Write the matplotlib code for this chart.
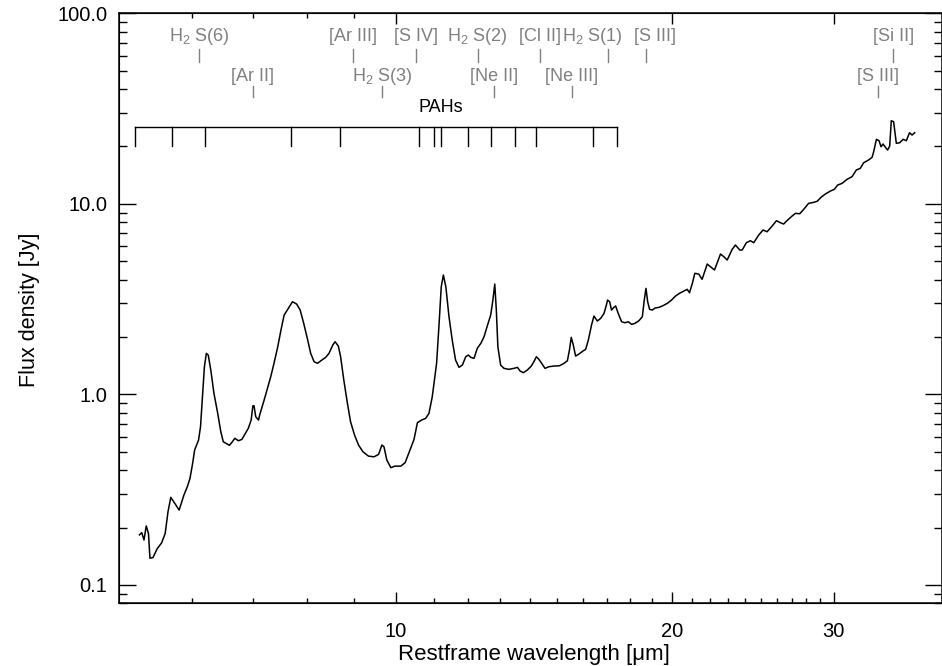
import matplotlib
matplotlib.use('Agg')
import matplotlib.pyplot as plt
from matplotlib.ticker import FixedLocator, NullFormatter, FormatStrFormatter

plt.rcParams['font.family'] = ['Liberation Sans', 'DejaVu Sans']
plt.rcParams['mathtext.fontset'] = 'custom'
plt.rcParams['mathtext.rm'] = 'Liberation Sans'

# spectrum (restframe wavelength in micron, flux in Jy)
wave = [5.26, 5.29, 5.32, 5.35, 5.38, 5.40, 5.44, 5.50, 5.56, 5.61, 5.65, 5.69, 5.81, 5.88, 5.93,
        5.97, 6.01, 6.04, 6.10, 6.13, 6.16, 6.19, 6.22, 6.25, 6.29, 6.34, 6.40, 6.45, 6.49, 6.59,
        6.64, 6.68, 6.74, 6.80, 6.85, 6.91, 6.96, 6.99, 7.01, 7.04, 7.09,
        7.11, 7.19, 7.25, 7.31, 7.37, 7.44, 7.50, 7.56, 7.64, 7.72, 7.80, 7.87, 7.94, 8.02, 8.08,
        8.15, 8.22, 8.29, 8.39, 8.46, 8.54, 8.59, 8.66, 8.71, 8.78, 8.86, 8.93, 9.02, 9.11, 9.21,
        9.34, 9.47, 9.58, 9.66, 9.71, 9.78, 9.88, 9.98, 10.13, 10.24,
        10.47, 10.56, 10.67, 10.78, 10.87, 10.96, 11.08, 11.15, 11.21, 11.27, 11.34, 11.43, 11.53,
        11.62, 11.72, 11.82, 11.92, 12.00, 12.07, 12.17, 12.27, 12.38, 12.48, 12.59, 12.69, 12.76,
        12.82, 12.87, 12.92, 13.01, 13.12, 13.28, 13.45, 13.57, 13.66, 13.77, 13.91, 14.05, 14.14,
        14.23, 14.32,
        14.42, 14.54, 14.68, 14.87, 15.08, 15.25, 15.38, 15.46, 15.53, 15.61, 15.70, 15.83, 15.99,
        16.10, 16.21, 16.34, 16.44, 16.58, 16.72, 16.86, 16.96, 17.01, 17.10, 17.18, 17.28, 17.36,
        17.47, 17.62, 17.76, 17.92, 18.07, 18.22, 18.40, 18.56, 18.65, 18.73, 18.81, 18.90, 19.03,
        19.16, 19.35, 19.54, 19.76, 19.97, 20.17, 20.37, 20.60, 20.77, 20.89, 21.04, 21.17,
        21.38, 21.56, 21.84, 22.02, 22.24, 22.58, 22.77, 22.96, 23.25, 23.44, 23.70, 23.84, 24.09,
        24.34, 24.54, 24.85, 25.12, 25.38, 25.70, 25.98, 26.24, 26.45, 26.72, 27.02, 27.25, 27.54,
        27.82, 28.16, 28.52, 28.77, 29.05, 29.37, 29.74, 30.04, 30.29, 30.63, 31.01, 31.40, 31.74,
        32.06, 32.33, 32.73, 33.02, 33.15, 33.38, 33.60, 33.77, 33.94, 34.14, 34.33, 34.51, 34.65,
        34.85, 35.09, 35.39, 35.69, 35.98, 36.27, 36.50, 36.74]
flux = [0.183, 0.188, 0.172, 0.204, 0.186, 0.138, 0.139, 0.155, 0.166, 0.186, 0.242, 0.288, 0.247,
        0.296, 0.327, 0.362, 0.434, 0.510, 0.576, 0.676, 0.971, 1.396, 1.641, 1.608, 1.341, 1.012,
        0.795, 0.636, 0.564, 0.540, 0.564, 0.588, 0.571, 0.580, 0.617, 0.663, 0.733, 0.871, 0.871,
        0.763, 0.733,
        0.779, 0.933, 1.075, 1.237, 1.455, 1.778, 2.176, 2.608, 2.828, 3.063, 2.979, 2.770, 2.359,
        1.928, 1.641, 1.483, 1.455, 1.501, 1.564, 1.641, 1.815, 1.889, 1.793, 1.576, 1.189, 0.897,
        0.718, 0.611, 0.542, 0.500, 0.474, 0.470, 0.484, 0.542, 0.531, 0.452, 0.412, 0.420, 0.420,
        0.438,
        0.580, 0.710, 0.733, 0.748, 0.795, 0.971, 1.455, 2.359, 3.671, 4.229, 3.671, 2.555, 1.889,
        1.514, 1.386, 1.425, 1.576, 1.608, 1.564, 1.545, 1.744, 1.852, 2.006, 2.311, 2.608, 3.126,
        3.793, 2.770, 1.778, 1.425, 1.369, 1.353, 1.369, 1.386, 1.326, 1.299, 1.341, 1.408, 1.483,
        1.576, 1.526,
        1.455, 1.369, 1.396, 1.408, 1.413, 1.455, 1.501, 1.708, 1.992, 1.815, 1.589, 1.627, 1.688,
        1.722, 1.928, 2.311, 2.576, 2.426, 2.506, 2.662, 2.943, 3.126, 3.063, 2.770, 2.861, 2.908,
        2.662, 2.405, 2.376, 2.405, 2.330, 2.359, 2.434, 2.555, 3.126, 3.601, 3.063, 2.794, 2.770,
        2.838, 2.861, 2.918, 3.004, 3.126, 3.281, 3.390, 3.486, 3.558, 3.415, 3.825, 4.317,
        4.280, 4.015, 4.831, 4.676, 4.494, 5.452, 5.277, 5.070, 5.770, 6.077, 5.721, 5.721, 6.249,
        6.402, 6.249, 6.859, 7.287, 7.138, 7.647, 8.153, 7.958, 7.834, 8.222, 8.630, 8.916, 8.870,
        9.357, 10.06, 10.18, 10.31, 10.82, 11.26, 11.67, 11.92, 12.55, 12.81, 13.45, 13.88, 15.05,
        15.36, 16.44, 16.98, 17.54, 18.77, 21.81, 21.44, 19.94, 20.61, 19.80, 19.16, 20.11, 27.30,
        26.98, 20.78, 20.93, 21.81, 21.44, 23.62, 22.97, 23.62]

# line identifications, upper and lower rows
row1_names = ['H$_2$ S(6)', '[Ar III]', '[S IV]', 'H$_2$ S(2)', '[Cl II]', 'H$_2$ S(1)', '[S III]', '[Si II]']
row1_wave = [6.11, 8.99, 10.51, 12.28, 14.37, 17.03, 18.71, 34.82]
row2_names = ['[Ar II]', 'H$_2$ S(3)', '[Ne II]', '[Ne III]', '[S III]']
row2_wave = [6.99, 9.66, 12.81, 15.56, 33.48]
pah_wave = [5.2, 5.7, 6.2, 7.7, 8.7, 10.6, 11.0, 11.2, 12.0, 12.7, 13.5, 14.2, 16.4, 17.4]
pah_label_wave = 11.2

# sideways nudges (points) so neighbouring names do not collide
row1_shift = [0, 0, 0, 0, 0, -11.5, 6.5, 0]

fig = plt.figure(figsize=(9.42, 6.66), dpi=100)
ax = fig.add_axes([0.1266, 0.0941, 0.9995 - 0.1266, 0.980 - 0.0941])

ax.plot(wave, flux, color='black', lw=1.1)
ax.set_xscale('log')
ax.set_yscale('log')
ax.set_xlim(5.0, 39.3)
ax.set_ylim(0.08, 100)

ax.xaxis.set_major_locator(FixedLocator([10, 20, 30]))
ax.xaxis.set_minor_locator(FixedLocator([6, 7, 8, 9] + list(range(11, 20)) + list(range(21, 30))))
ax.xaxis.set_major_formatter(FormatStrFormatter('%d'))
ax.xaxis.set_minor_formatter(NullFormatter())
ax.yaxis.set_major_locator(FixedLocator([0.1, 1, 10, 100]))
ymin = [0.08, 0.09] + [k * 0.1 for k in range(2, 10)] + list(range(2, 10)) + [k * 10 for k in range(2, 10)]
ax.yaxis.set_minor_locator(FixedLocator(ymin))
ax.yaxis.set_major_formatter(FormatStrFormatter('%.1f'))
ax.yaxis.set_minor_formatter(NullFormatter())

ax.tick_params(axis='x', which='major', direction='in', length=7.7, width=1.0, labelsize=14.5, pad=13.5, top=False)
ax.tick_params(axis='x', which='minor', direction='in', length=3.6, width=1.0, top=False)
ax.tick_params(axis='y', which='major', direction='in', length=12, width=1.0, labelsize=14.5, pad=8.5, right=True)
ax.tick_params(axis='y', which='minor', direction='in', length=5.8, width=1.0, right=True)
for s in ax.spines.values():
    s.set_linewidth(1.1)

# top axis only carries the majors and the 6-9 minors
ax2 = ax.twiny()
ax2.set_xscale('log')
ax2.set_xlim(ax.get_xlim())
ax2.xaxis.set_major_locator(FixedLocator([10, 20, 30]))
ax2.xaxis.set_minor_locator(FixedLocator([6, 7, 8, 9]))
ax2.xaxis.set_major_formatter(NullFormatter())
ax2.xaxis.set_minor_formatter(NullFormatter())
ax2.tick_params(axis='x', which='major', direction='in', length=7.7, width=1.0)
ax2.tick_params(axis='x', which='minor', direction='in', length=3.6, width=1.0)

trans = ax.get_xaxis_transform()
grey = '#808080'
for name, w, dx in zip(row1_names, row1_wave, row1_shift):
    ax.annotate(name, xy=(w, 0.9615), xycoords=trans, xytext=(dx, 0), textcoords='offset points',
                ha='center', va='center', fontsize=13, color=grey)
    ax.plot([w, w], [0.9395, 0.9175], transform=trans, color=grey, lw=1.0)
for name, w in zip(row2_names, row2_wave):
    ax.text(w, 0.8937, name, transform=trans, ha='center', va='center', fontsize=13, color=grey)
    ax.plot([w, w], [0.8768, 0.8581], transform=trans, color=grey, lw=1.0)

ax.plot([pah_wave[0], pah_wave[-1]], [0.8073, 0.8073], transform=trans, color='black', lw=1.0)
for w in pah_wave:
    ax.plot([w, w], [0.8073, 0.7756], transform=trans, color='black', lw=1.0)
ax.text(pah_label_wave, 0.8412, 'PAHs', transform=trans, ha='center', va='center', fontsize=13, color='black')

fig.text(534 / 942, 1 - 660 / 666, 'Restframe wavelength [\u03bcm]', ha='center', va='baseline', fontsize=16)
fig.text(30 / 942, 1 - 310 / 666, 'Flux density [Jy]', ha='center', va='center', rotation=90, fontsize=15.5)

fig.savefig('out.png', dpi=100)
